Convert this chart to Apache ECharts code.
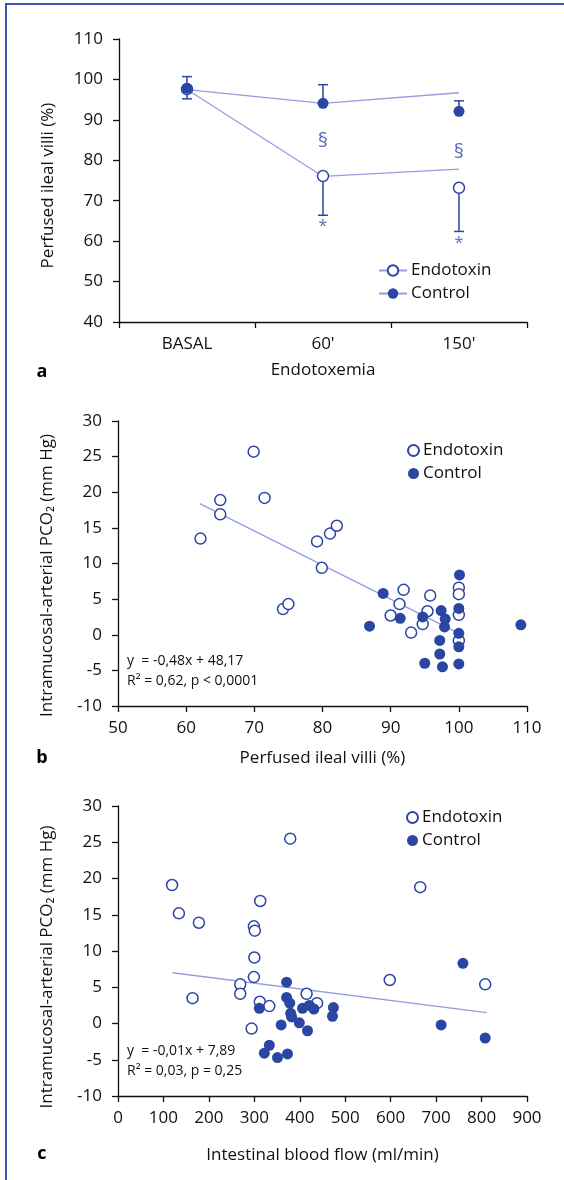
<!DOCTYPE html>
<html>
<head>
<meta charset="utf-8">
<title>Perfused ileal villi</title>
<script src="https://cdn.jsdelivr.net/npm/echarts@6/dist/echarts.min.js"></script>
<style>
  html, body { margin: 0; padding: 0; background: #fff; }
  #frame { position: relative; width: 564px; height: 1180px; }
  /* 图框的上边和左边 */
  #frame::before { content: ""; position: absolute; left: 5px; top: 3px; right: 0; bottom: 0;
    border-top: 2px solid #3f55b3; border-left: 2px solid #3f55b3; z-index: 2; pointer-events: none; }
  #chart { width: 564px; height: 1180px; }
</style>
</head>
<body>
<div id="frame"><div id="chart"></div></div>
<script>
// ---- 数据 a：灌注回肠绒毛 ----
const categoriesA = ["BASAL", "60'", "150'"];
const endoMeanA = [97.6, 76.1, 73.2];
const ctrlMeanA = [97.8, 94.1, 92.1];
const endoLineA = [97.5, 76.0, 77.8];
const ctrlLineA = [97.5, 94.1, 96.7];
// [类别, 下限, 上限]
const errA = [[0, 95.2, 100.7], [1, 94.1, 98.7], [2, 92.1, 94.7], [1, 66.4, 76.1], [2, 62.4, 73.2]];
const sectionMarksA = [[1, 84.7], [2, 82.0]];
const starMarksA = [[1, 63.7], [2, 59.5]];
const ticksA = { min: 40, max: 110, interval: 10 };

// ---- 数据 b：PCO2 vs 灌注绒毛 ----
const endoB = [[62.1, 13.5], [65.0, 18.9], [65.0, 16.9], [69.9, 25.7], [71.5, 19.2], [74.2, 3.6], [75.0, 4.3],
  [79.2, 13.1], [81.1, 14.2], [82.1, 15.3], [79.9, 9.4], [90.0, 2.7], [91.3, 4.3], [91.9, 6.3], [93.0, 0.3],
  [94.7, 1.5], [95.4, 3.3], [95.8, 5.5], [100, 6.6], [100, 5.7], [100, 2.8], [100, -0.8]];
const ctrlB = [[86.9, 1.2], [88.9, 5.8], [91.4, 2.3], [94.7, 2.5], [95.0, -4.0], [97.4, 3.4], [98.0, 2.2],
  [97.9, 1.1], [97.2, -0.8], [97.2, -2.7], [97.6, -4.5], [100.1, 8.4], [100, 3.7], [100, 0.2], [100, -1.7],
  [100, -4.1], [109.1, 1.4]];
const fitB = [[62, 18.4], [100, 0.2]];
const eqB = ["y  = -0,48x + 48,17", "R² = 0,62, p < 0,0001"];

// ---- 数据 c：PCO2 vs 肠血流 ----
const endoC = [[119, 19.1], [134, 15.2], [178, 13.9], [164, 3.5], [269, 5.4], [269, 4.1], [299, 13.4],
  [301, 12.8], [300, 9.1], [299, 6.4], [313, 16.9], [294, -0.7], [312, 3.0], [333, 2.4], [379, 25.5],
  [415, 4.1], [438, 2.8], [598, 6.0], [665, 18.8], [808, 5.4]];
const ctrlC = [[311, 2.1], [371, 5.7], [371, 3.6], [378, 2.8], [380, 1.4], [382, 0.9], [359, -0.2],
  [399, 0.1], [406, 2.1], [421, 2.5], [431, 2.0], [417, -1.0], [474, 2.2], [472, 1.0], [333, -3.0],
  [322, -4.1], [351, -4.7], [373, -4.2], [711, -0.2], [759, 8.3], [808, -2.0]];
const fitC = [[120, 7.0], [811, 1.5]];
const eqC = ["y  = -0,01x + 7,89", "R² = 0,03, p = 0,25"];

const ticksPCO2 = { min: -10, max: 30, interval: 5 };

const BLUE = "#2b45a3";
const LIGHT = "#979be0";
const INK = "#111";
const FONT = "'Open Sans', 'Noto Sans', sans-serif";

// 坐标轴公共样式
function axisStyle(horizontal, shift) {
  return {
    axisLine: { show: true, onZero: false, lineStyle: { color: INK, width: 1.3 } },
    axisTick: { show: true, length: 6, lineStyle: { color: INK, width: 1.3 } },
    splitLine: { show: false },
    axisLabel: { color: INK, fontSize: 17, fontFamily: FONT, margin: horizontal ? 14 : 16 },
    // 纵轴标题略向下偏移
    nameTextStyle: { color: INK, fontSize: 17, fontFamily: FONT, padding: [0, shift || 0, 0, 0] },
  };
}

// 误差线
function renderErr(params, api) {
  const top = api.coord([api.value(0), api.value(2)]);
  const bot = api.coord([api.value(0), api.value(1)]);
  const w = 5;
  const style = { stroke: BLUE, lineWidth: 1.5 };
  return {
    type: "group",
    children: [
      { type: "line", shape: { x1: top[0], y1: top[1], x2: bot[0], y2: bot[1] }, style },
      { type: "line", shape: { x1: top[0] - w, y1: top[1], x2: top[0] + w, y2: top[1] }, style },
      { type: "line", shape: { x1: bot[0] - w, y1: bot[1], x2: bot[0] + w, y2: bot[1] }, style },
    ],
  };
}

function markLabels(name, data, text, size) {
  return {
    name, type: "scatter", xAxisIndex: 0, yAxisIndex: 0, data,
    symbol: "circle", symbolSize: 1, itemStyle: { color: "rgba(0,0,0,0)" }, z: 5, silent: true,
    label: { show: true, position: "inside", formatter: text, color: BLUE, fontSize: size, fontFamily: FONT },
  };
}

function openScatter(name, idx, data) {
  return {
    name, type: "scatter", xAxisIndex: idx, yAxisIndex: idx, data, symbol: "circle", symbolSize: 11,
    itemStyle: { color: "#fff", borderColor: BLUE, borderWidth: 1.5, opacity: 1 }, z: 4,
  };
}
function filledScatter(name, idx, data) {
  return {
    name, type: "scatter", xAxisIndex: idx, yAxisIndex: idx, data, symbol: "circle", symbolSize: 11,
    itemStyle: { color: BLUE, opacity: 1 }, z: 4,
  };
}
function fitLine(idx, data) {
  return {
    name: "fit" + idx, type: "line", xAxisIndex: idx, yAxisIndex: idx, data, symbol: "none",
    lineStyle: { color: LIGHT, width: 1.3 }, z: 2, silent: true,
  };
}

function legendAt(left, top, names, icon) {
  return {
    data: names, orient: "vertical", left, top, itemGap: 6, selectedMode: false, padding: 0,
    itemWidth: icon ? 28 : 11, itemHeight: icon ? 13 : 11,
    formatter: (n) => n.split("#")[0],
    textStyle: { color: INK, fontSize: 17, fontFamily: FONT, padding: [0, 0, 0, -1] },
  };
}

function eqText(left, top, lines) {
  return lines.map((t, i) => ({
    type: "text", left, top: top + i * 20,
    style: { text: t, fill: INK, font: "14px " + FONT },
  }));
}
function panelLabel(x, y, t) {
  return {
    type: "text", x, y,
    style: { text: t, fill: "#000", font: "bold 18px " + FONT, textAlign: "center", textVerticalAlign: "middle" },
  };
}

const myChart = echarts.init(document.getElementById("chart"), null, { renderer: "canvas" });

const option = {
  animation: false,
  textStyle: { fontFamily: FONT },
  grid: [
    { left: 119, right: 37, top: 39, height: 283 },
    { left: 118, right: 37, top: 421, height: 285 },
    { left: 118, right: 37, top: 806, height: 290 },
  ],
  xAxis: [
    Object.assign(axisStyle(true), {
      gridIndex: 0, type: "category", data: categoriesA, boundaryGap: true,
      name: "Endotoxemia", nameLocation: "middle", nameGap: 40,
    }),
    Object.assign(axisStyle(true), {
      gridIndex: 1, type: "value", min: 50, max: 110, interval: 10,
      name: "Perfused ileal villi (%)", nameLocation: "middle", nameGap: 44,
    }),
    Object.assign(axisStyle(true), {
      gridIndex: 2, type: "value", min: 0, max: 900, interval: 100,
      name: "Intestinal blood flow (ml/min)", nameLocation: "middle", nameGap: 51,
    }),
  ],
  yAxis: [
    Object.assign(axisStyle(false, 10), Object.assign({}, ticksA, {
      gridIndex: 0, type: "value",
      name: "Perfused ileal villi (%)", nameLocation: "middle", nameGap: 62,
    })),
    Object.assign(axisStyle(false, 24), Object.assign({}, ticksPCO2, {
      gridIndex: 1, type: "value",
      name: "Intramucosal-arterial PCO₂ (mm Hg)", nameLocation: "middle", nameGap: 62,
    })),
    Object.assign(axisStyle(false, 32), Object.assign({}, ticksPCO2, {
      gridIndex: 2, type: "value",
      name: "Intramucosal-arterial PCO₂ (mm Hg)", nameLocation: "middle", nameGap: 62,
    })),
  ],
  legend: [
    legendAt(378, 262, ["Endotoxin", "Control"], true),
    legendAt(407, 442, ["Endotoxin#b", "Control#b"], false),
    legendAt(406, 809, ["Endotoxin#c", "Control#c"], false),
  ],
  graphic: [
    panelLabel(42, 372, "a"),
    panelLabel(42, 758, "b"),
    panelLabel(42, 1154, "c"),
    ...eqText(127, 654, eqB),
    ...eqText(127, 1044, eqC),
  ],
  series: [
    // a：折线（图例用）
    {
      name: "Endotoxin", type: "line", xAxisIndex: 0, yAxisIndex: 0, data: endoLineA,
      symbol: "emptyCircle", symbolSize: 11, showSymbol: false, z: 2,
      itemStyle: { color: BLUE, borderWidth: 1.5 }, lineStyle: { color: LIGHT, width: 1.3 },
    },
    {
      name: "Control", type: "line", xAxisIndex: 0, yAxisIndex: 0, data: ctrlLineA,
      symbol: "circle", symbolSize: 11, showSymbol: false, z: 2,
      itemStyle: { color: BLUE }, lineStyle: { color: LIGHT, width: 1.3 },
    },
    {
      name: "errA", type: "custom", xAxisIndex: 0, yAxisIndex: 0, data: errA,
      renderItem: renderErr, z: 3, silent: true,
    },
    openScatter("Endotoxin mean", 0, endoMeanA),
    filledScatter("Control mean", 0, ctrlMeanA),
    markLabels("sectionA", sectionMarksA, "§", 20),
    markLabels("starA", starMarksA, "*", 16),
    // b
    fitLine(1, fitB),
    openScatter("Endotoxin#b", 1, endoB),
    filledScatter("Control#b", 1, ctrlB),
    // c
    fitLine(2, fitC),
    openScatter("Endotoxin#c", 2, endoC),
    filledScatter("Control#c", 2, ctrlC),
  ],
};

myChart.setOption(option);
</script>
</body>
</html>
